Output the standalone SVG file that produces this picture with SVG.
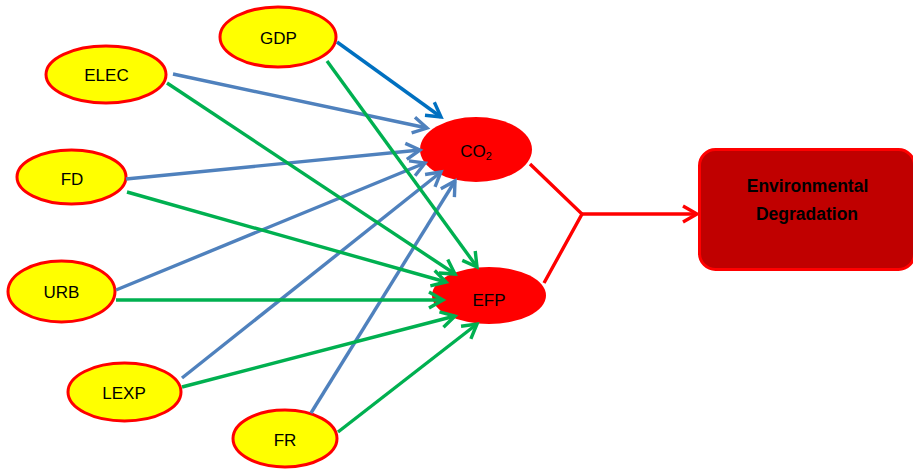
<svg xmlns="http://www.w3.org/2000/svg" width="913" height="469" viewBox="0 0 913 469">
<style>
.src{fill:#FFFF00;stroke:#FF0000;stroke-width:3}
.tgt{fill:#FF0000;stroke:none}
.lbl{font-family:"Liberation Sans",Arial,sans-serif;font-size:17px;fill:#000;text-anchor:middle}
.bold{font-family:"Liberation Sans",Arial,sans-serif;font-size:17.5px;font-weight:bold;fill:#000;text-anchor:middle}
.c{fill:none;stroke-width:3.4}
.b{stroke:#4F81BD;marker-end:url(#mb)}
.db{stroke:#0070C0;marker-end:url(#mdb)}
.g{stroke:#00B050;marker-end:url(#mg)}
.r{stroke:#FF0000}
</style>
<defs>
<marker id="mb" markerUnits="userSpaceOnUse" viewBox="-18 -12 22 24" markerWidth="22" markerHeight="24" refX="0" refY="0" orient="auto"><path d="M-14,-8 L0,0 L-14,8" fill="none" stroke="#4F81BD" stroke-width="3.4"/></marker>
<marker id="mdb" markerUnits="userSpaceOnUse" viewBox="-18 -12 22 24" markerWidth="22" markerHeight="24" refX="0" refY="0" orient="auto"><path d="M-14,-8 L0,0 L-14,8" fill="none" stroke="#0070C0" stroke-width="3.4"/></marker>
<marker id="mg" markerUnits="userSpaceOnUse" viewBox="-18 -12 22 24" markerWidth="22" markerHeight="24" refX="0" refY="0" orient="auto"><path d="M-14,-8 L0,0 L-14,8" fill="none" stroke="#00B050" stroke-width="3.4"/></marker>
<marker id="mr" markerUnits="userSpaceOnUse" viewBox="-18 -12 22 24" markerWidth="22" markerHeight="24" refX="0" refY="0" orient="auto"><path d="M-14,-8 L0,0 L-14,8" fill="none" stroke="#FF0000" stroke-width="3.4"/></marker>
</defs>
<rect width="913" height="469" fill="#FFFFFF"/>
<g id="GDP"><ellipse class="src" cx="278" cy="37" rx="58" ry="30"/><text class="lbl" x="278.5" y="44">GDP</text></g>
<g id="ELEC"><ellipse class="src" cx="106" cy="74.5" rx="60" ry="28.5"/><text class="lbl" x="106.5" y="81">ELEC</text></g>
<g id="FD"><ellipse class="src" cx="71.5" cy="177" rx="54.5" ry="27"/><text class="lbl" x="72" y="185">FD</text></g>
<g id="URB"><ellipse class="src" cx="61.5" cy="291.5" rx="53.5" ry="30.5"/><text class="lbl" x="61.5" y="298">URB</text></g>
<g id="LEXP"><ellipse class="src" cx="124.5" cy="392" rx="56.5" ry="29"/><text class="lbl" x="124" y="399">LEXP</text></g>
<g id="FR"><ellipse class="src" cx="285" cy="438.5" rx="52" ry="28.5"/><text class="lbl" x="285" y="446">FR</text></g>
<g id="CO2"><ellipse class="tgt" cx="476" cy="149.5" rx="56" ry="32.5"/><text class="lbl" x="476" y="157">CO<tspan font-size="11" dy="3">2</tspan></text></g>
<g id="EFP"><ellipse class="tgt" cx="489" cy="295.5" rx="57" ry="28.5"/><text class="lbl" x="489" y="306">EFP</text></g>
<g id="ENV"><rect x="699.5" y="149.5" width="215" height="120" rx="16" ry="16" fill="#C00000" stroke="#FF0000" stroke-width="3"/><text class="bold" x="807.5" y="192">Environmental</text><text class="bold" x="807" y="220">Degradation</text></g>
<g id="connectors">
<line class="c db" x1="337" y1="42" x2="441" y2="117"/>
<line class="c b" x1="173" y1="74" x2="427" y2="128"/>
<line class="c b" x1="126" y1="179" x2="420" y2="150"/>
<line class="c b" x1="116" y1="290" x2="425" y2="163"/>
<line class="c b" x1="182" y1="378" x2="441" y2="172"/>
<line class="c b" x1="311" y1="413" x2="455" y2="181"/>
<line class="c g" x1="327" y1="61" x2="477" y2="267"/>
<line class="c g" x1="167" y1="83" x2="455" y2="274"/>
<line class="c g" x1="127" y1="192" x2="446" y2="282"/>
<line class="c g" x1="116" y1="300" x2="443" y2="300"/>
<line class="c g" x1="182" y1="387" x2="455" y2="316"/>
<line class="c g" x1="338" y1="432" x2="477" y2="324"/>
<polyline class="c r" points="530,164 582,214 544,283"/>
<line class="c r" x1="582" y1="214" x2="697" y2="214" marker-end="url(#mr)"/>
</g>
</svg>
